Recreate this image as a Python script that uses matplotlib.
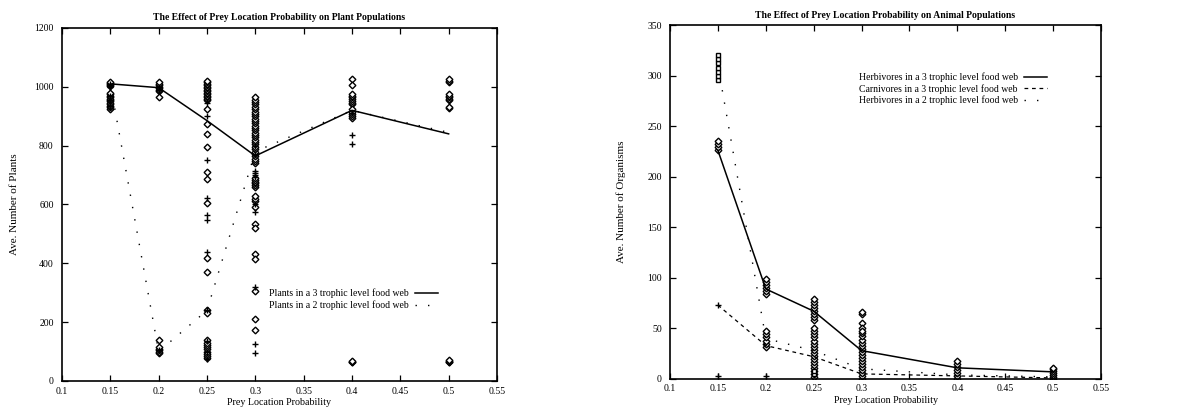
import matplotlib
matplotlib.use('Agg')
import matplotlib.pyplot as plt
from matplotlib.ticker import FixedLocator

# prey location probabilities that were simulated
prob = [0.15, 0.2, 0.25, 0.3, 0.4, 0.5]

# averaged populations (lines)
plants_3tl = [1010, 997, 885, 765, 920, 840]
plants_2tl = [1010, 100, 240, 780, 920, 845]
herb_3tl = [226, 89, 67, 28, 11, 7]
carn_3tl = [73, 33, 22, 5, 3, 1]
herb_2tl = [310, 40, 28, 10, 4, 2]

# individual runs, one list per probability (plants)
plant_runs_diamond = [
    [1003, 1006, 1009, 1012, 1015, 925, 930, 935, 940, 945, 950, 955, 960, 965, 970, 975, 980],
    [985, 990, 995, 1000, 1005, 1010, 1015, 965, 140, 95, 100, 105, 110, 115],
    [955, 960, 965, 970, 975, 980, 985, 990, 995, 1000, 1005, 1010, 1015, 1020,
     925, 872, 838, 797, 710, 688, 605, 418, 372, 240, 232,
     78, 85, 92, 100, 108, 115, 122, 130, 138],
    [740, 748, 756, 764, 772, 780, 788, 796, 804, 812, 820, 828, 836, 844, 852, 860,
     868, 876, 884, 892, 900, 908, 916, 924, 932, 940, 948, 956, 964,
     660, 666, 672, 678, 684, 690, 612, 620, 628, 590, 535, 520, 430, 413, 305, 210, 172],
    [1025, 1005, 940, 946, 952, 958, 964, 970, 976, 895, 902, 909, 916, 923, 63, 66, 69],
    [1015, 1020, 1025, 955, 960, 965, 970, 975, 928, 932, 63, 66, 69, 72],
]
plant_runs_plus = [
    [1000, 1010, 935, 955, 970],
    [1000, 990, 105],
    [945, 900, 750, 622, 565, 548, 440, 242, 135, 100, 75],
    [715, 708, 700, 692, 575, 600, 320, 125, 95, 770, 800],
    [835, 805, 910],
    [],
]

# individual runs, one list per probability (animals)
animal_runs_diamond = [
    [226, 229, 232, 235],
    [84, 87, 90, 93, 96, 99, 32, 35, 38, 41, 44, 47],
    [58, 61, 64, 67, 70, 73, 76, 79, 2, 5, 8, 11, 14, 17, 20, 23, 26, 29, 32, 35,
     38, 41, 44, 47, 50],
    [64, 66, 55, 50, 0, 3, 6, 9, 12, 15, 18, 21, 24, 27, 30, 33, 36, 39, 42, 45, 47],
    [0, 3, 6, 9, 12, 15, 18],
    [0, 2, 4, 6, 8, 10, 11],
]
animal_runs_square = [
    [296, 300, 304, 308, 312, 316, 320],
    [],
    [5, 8],
    [],
    [],
    [],
]
animal_runs_plus = [
    [73, 3],
    [3],
    [],
    [],
    [],
    [],
]

xticks = [0.1, 0.15, 0.2, 0.25, 0.3, 0.35, 0.4, 0.45, 0.5, 0.55]
xtick_labels = ['0.1', '0.15', '0.2', '0.25', '0.3', '0.35', '0.4', '0.45', '0.5', '0.55']

plt.rcParams['font.family'] = ['Liberation Serif', 'DejaVu Serif']
plt.rcParams['font.size'] = 7

dotted = (0, (1, 8))


def style_axes(ax, ymax, ystep):
    ax.set_xlim(0.1, 0.55)
    ax.set_ylim(0, ymax)
    ax.xaxis.set_major_locator(FixedLocator(xticks))
    ax.set_xticklabels(xtick_labels)
    ax.yaxis.set_major_locator(FixedLocator(list(range(0, ymax + 1, ystep))))
    ax.tick_params(direction='in', top=True, right=True, length=4, width=0.9,
                   labelsize=7)
    ax.tick_params(axis='x', pad=4)
    ax.tick_params(axis='y', pad=6)
    for sp in ax.spines.values():
        sp.set_linewidth(1.2)
    ax.set_xlabel('Prey Location Probability', fontsize=7.2, labelpad=2)


def scatter_runs(ax, runs, marker, ms):
    for p, vals in zip(prob, runs):
        if vals:
            ax.plot([p] * len(vals), vals, linestyle='none', marker=marker, ms=ms,
                    mfc='white', mec='black', mew=1.0, color='black')


fig = plt.figure(figsize=(11.83, 4.11), dpi=100)
ax1 = fig.add_axes([0.0524, 0.073, 0.3677, 0.859])
ax2 = fig.add_axes([0.5664, 0.078, 0.3643, 0.861])

# plant populations
scatter_runs(ax1, plant_runs_diamond, 'D', 3.4)
scatter_runs(ax1, plant_runs_plus, '+', 4.5)
l1, = ax1.plot(prob, plants_3tl, color='black', lw=1.1)
l2, = ax1.plot(prob, plants_2tl, color='black', lw=1.0, linestyle=dotted)
style_axes(ax1, 1200, 200)
ax1.set_ylabel('Ave. Number of Plants', fontsize=8, labelpad=11)
ax1.set_title('The Effect of Prey Location Probability on Plant Populations',
              fontsize=6.9, fontweight='bold', pad=6)
ax1.legend([l1, l2], ['Plants in a 3 trophic level food web',
                      'Plants in a 2 trophic level food web'],
           loc='upper right', bbox_to_anchor=(0.876, 0.275), frameon=False,
           markerfirst=False, borderpad=0, handlelength=2.4, handletextpad=0.6,
           labelspacing=0.2, fontsize=7)

# animal populations
scatter_runs(ax2, animal_runs_diamond, 'D', 3.4)
scatter_runs(ax2, animal_runs_square, 's', 3.4)
scatter_runs(ax2, animal_runs_plus, '+', 4.5)
h1, = ax2.plot(prob, herb_3tl, color='black', lw=1.1)
h2, = ax2.plot(prob, carn_3tl, color='black', lw=0.9, linestyle=(0, (3, 3)))
h3, = ax2.plot(prob, herb_2tl, color='black', lw=1.0, linestyle=dotted)
style_axes(ax2, 350, 50)
ax2.set_ylabel('Ave. Number of Organisms', fontsize=8, labelpad=15)
ax2.set_title('The Effect of Prey Location Probability on Animal Populations',
              fontsize=6.9, fontweight='bold', pad=5)
ax2.legend([h1, h2, h3], ['Herbivores in a 3 trophic level food web',
                          'Carnivores in a 3 trophic level food web',
                          'Herbivores in a 2 trophic level food web'],
           loc='upper right', bbox_to_anchor=(0.886, 0.88), frameon=False,
           markerfirst=False, borderpad=0, handlelength=2.4, handletextpad=0.6,
           labelspacing=0.2, fontsize=7)

fig.savefig('out.png', dpi=100)
